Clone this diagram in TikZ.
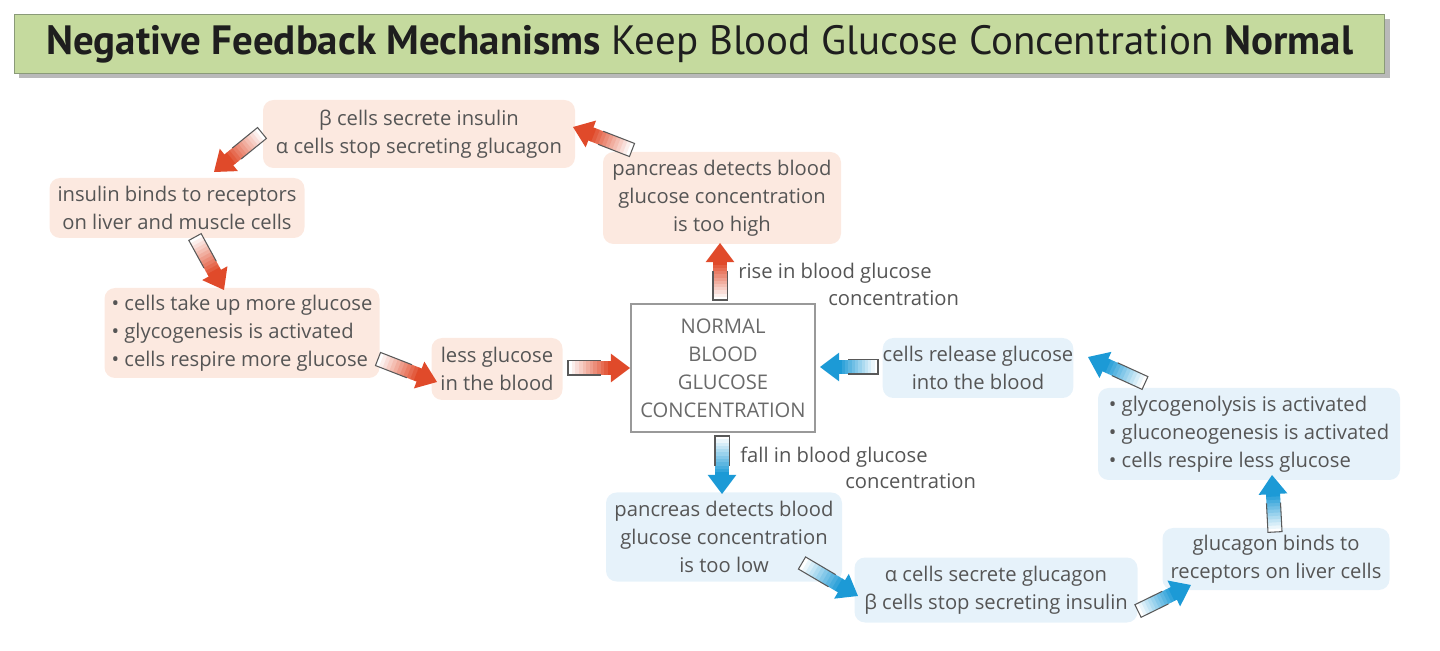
\documentclass[tikz,border=0pt]{standalone}
\usepackage{fontspec}
\setmainfont{Open Sans}
\newfontfamily\titlefont{PT Sans}
\usetikzlibrary{calc}
\definecolor{pinkbg}{HTML}{FCE9E0}
\definecolor{bluebg}{HTML}{E6F2FA}
\definecolor{txt}{HTML}{555555}
\definecolor{normtxt}{HTML}{6A6A6A}
\definecolor{redarrow}{HTML}{E04A2A}
\definecolor{bluearrow}{HTML}{1C9AD6}
\definecolor{titlegreen}{HTML}{C5DA9E}
\definecolor{titleedge}{HTML}{8A9A78}
\definecolor{titletxt}{HTML}{1E1E1E}

\newcommand\barrow[3]{%
  \path let \p1=(#1),\p2=(#2) in \pgfextra{%
    \pgfmathsetmacro\tmpa{atan2(\y2-\y1,\x2-\x1)}%
    \pgfmathsetmacro\tmpl{veclen(\x2-\x1,\y2-\y1)}%
    \global\let\barang\tmpa \global\let\barlen\tmpl};
  \begin{scope}[shift={(#1)},rotate=\barang,x=1pt,y=1pt]
    \pgfmathsetmacro\shl{\barlen-10.5}
    \foreach \i in {0,...,11}{
      \pgfmathsetmacro\xa{\shl*\i/12}
      \pgfmathsetmacro\xb{\shl*(\i+1)/12+0.3}
      \pgfmathtruncatemacro\pc{\i*100/11}
      \fill[#3!\pc!white] (\xa,-4) rectangle (\xb,4);
    }
    \draw[gray!70!black, line width=0.6pt] (\shl*0.75,4) -- (0,4) -- (0,-4) -- (\shl*0.75,-4);
    \fill[#3] (\shl-0.4,-8.2) -- (\barlen,0) -- (\shl-0.4,8.2) -- cycle;
  \end{scope}}

\begin{document}
\begin{tikzpicture}[x=0.02cm,y=-0.02cm,
  txtstyle/.style={text=txt, font=\fontsize{11.5}{15.9}\selectfont},
  sz/.style 2 args={minimum width=#1*0.02cm, minimum height=#2*0.02cm},
  pinkbox/.style={txtstyle, fill=pinkbg, rounded corners=6pt, align=center, inner sep=0pt},
  bluebox/.style={txtstyle, fill=bluebg, rounded corners=6pt, align=center, inner sep=0pt},
  normalbox/.style={txtstyle, text=normtxt, fill=white, draw=gray!80, line width=0.9pt, align=center, inner sep=0pt},
  lbl/.style={txtstyle, anchor=west, inner sep=0pt}
]
\useasboundingbox (0,0) rectangle (1440,651);

% title
\fill[gray!55] (19,19) rectangle (1390,78);
\node[draw=titleedge, fill=titlegreen, line width=0.8pt, sz={1370}{59}, anchor=north west, inner sep=0pt,
  font=\titlefont\fontsize{23.3}{27}\selectfont, text=titletxt] (title) at (14,14)
  {\textbf{Negative Feedback Mechanisms} Keep Blood Glucose Concentration \textbf{Normal}};

% red side
\node[pinkbox, sz={312}{68}] (bsec) at (419,134) {β cells secrete insulin\\α cells stop secreting glucagon};
\node[pinkbox, sz={238}{92}] (phigh) at (722,198) {pancreas detects blood\\glucose concentration\\is too high};
\node[pinkbox, sz={255}{60}] (ibind) at (177,208) {insulin binds to receptors\\on liver and muscle cells};
\node[pinkbox, sz={275}{90}, align=left] (takeup) at (242,333) {\textbullet\ cells take up more glucose\\\textbullet\ glycogenesis is activated\\\textbullet\ cells respire more glucose};
\node[pinkbox, sz={131}{62}] (less) at (497,369) {less glucose\\in the blood};

% centre
\node[normalbox, sz={184}{128}] (normal) at (723,368) {NORMAL\\BLOOD\\GLUCOSE\\CONCENTRATION};

% blue side
\node[bluebox, sz={188}{60}] (release) at (978,368) {cells release glucose\\into the blood};
\node[bluebox, sz={302}{92}, align=left] (glyco) at (1249,434) {\textbullet\ glycogenolysis is activated\\\textbullet\ gluconeogenesis is activated\\\textbullet\ cells respire less glucose};
\node[bluebox, sz={236}{89}] (plow) at (724,537) {pancreas detects blood\\glucose concentration\\is too low};
\node[bluebox, sz={283}{65}] (asec) at (996,590) {α cells secrete glucagon\\β cells stop secreting insulin};
\node[bluebox, sz={227}{62}] (gbind) at (1276,559) {glucagon binds to\\receptors on liver cells};

% labels
\node[lbl] (rise1) at (738,273) {rise in blood glucose};
\node[lbl] (rise2) at (828,298) {concentration};
\node[lbl] (fall1) at (740,457) {fall in blood glucose};
\node[lbl] (fall2) at (845,481) {concentration};

% arrow end points
\coordinate (a1s) at (632,150); \coordinate (a1e) at (573,127);
\coordinate (a2s) at (262,133); \coordinate (a2e) at (214,172);
\coordinate (a3s) at (195,237); \coordinate (a3e) at (224,290);
\coordinate (a4s) at (378,359); \coordinate (a4e) at (437,382);
\coordinate (a5s) at (568,368); \coordinate (a5e) at (630,368);
\coordinate (a6s) at (720,300); \coordinate (a6e) at (720,243);
\coordinate (a7s) at (878,367); \coordinate (a7e) at (820,367);
\coordinate (a8s) at (1145,383); \coordinate (a8e) at (1088,357);
\coordinate (a9s) at (722,436); \coordinate (a9e) at (722,494);
\coordinate (a10s) at (802,563); \coordinate (a10e) at (858,596);
\coordinate (a11s) at (1138,611); \coordinate (a11e) at (1191,585);
\coordinate (a12s) at (1275,532); \coordinate (a12e) at (1272,475);

\barrow{a1s}{a1e}{redarrow}
\barrow{a2s}{a2e}{redarrow}
\barrow{a3s}{a3e}{redarrow}
\barrow{a4s}{a4e}{redarrow}
\barrow{a5s}{a5e}{redarrow}
\barrow{a6s}{a6e}{redarrow}
\barrow{a7s}{a7e}{bluearrow}
\barrow{a8s}{a8e}{bluearrow}
\barrow{a9s}{a9e}{bluearrow}
\barrow{a10s}{a10e}{bluearrow}
\barrow{a11s}{a11e}{bluearrow}
\barrow{a12s}{a12e}{bluearrow}
\end{tikzpicture}
\end{document}
